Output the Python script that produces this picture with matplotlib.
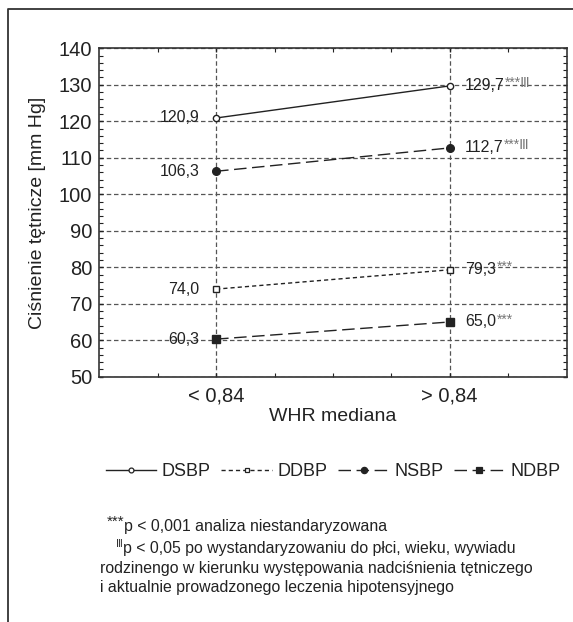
import matplotlib
matplotlib.use('Agg')
import matplotlib.pyplot as plt
from matplotlib.lines import Line2D
from matplotlib.ticker import MultipleLocator, FixedLocator

FONT = ['Liberation Sans', 'DejaVu Sans']
plt.rcParams['font.family'] = FONT

# dane
categories = ['< 0,84', '> 0,84']
series_names = ['DSBP', 'DDBP', 'NSBP', 'NDBP']
dsbp = [120.9, 129.7]
ddbp = [74.0, 79.3]
nsbp = [106.3, 112.7]
ndbp = [60.3, 65.0]
significance = ['***Ⅲ', '***', '***Ⅲ', '***']

TXT = '#222222'
W, H = 573, 622

fig = plt.figure(figsize=(W / 100, H / 100), dpi=100)
ax = fig.add_axes([99.3 / W, 1 - 376.7 / H, (566.5 - 99.3) / W, (376.7 - 48.3) / H])

x = [0, 1]
styles = {
    'DSBP': dict(ls='-', marker='o', mfc='white', ms=4.5),
    'DDBP': dict(ls=(0, (3, 2.2)), marker='s', mfc='white', ms=4.5),
    'NSBP': dict(ls=(0, (9, 4)), marker='o', mfc=TXT, ms=5.5),
    'NDBP': dict(ls=(0, (9, 4)), marker='s', mfc=TXT, ms=5.5),
}
values = [dsbp, ddbp, nsbp, ndbp]

ax.grid(True, which='major', color='#555555', lw=0.9, ls=(0, (3.6, 2.2)), zorder=0)
ax.set_axisbelow(True)

handles = []
for name, vals, sig in zip(series_names, values, significance):
    st = styles[name]
    ax.plot(x, vals, color=TXT, lw=1.0, ls=st['ls'], marker=st['marker'],
            mfc=st['mfc'], mec=TXT, mew=1.0, ms=st['ms'], zorder=3)
    handles.append(Line2D([], [], color=TXT, lw=1.0, ls=st['ls'], marker=st['marker'],
                          mfc=st['mfc'], mec=TXT, mew=0.9, ms=st['ms'] - 1))
    ax.annotate(f'{vals[0]:.1f}'.replace('.', ','), xy=(x[0], vals[0]),
                xytext=(-12, 0), textcoords='offset points',
                ha='right', va='center', fontsize=11.5, color=TXT)
    right = ax.annotate(f'{vals[1]:.1f}'.replace('.', ','), xy=(x[1], vals[1]),
                        xytext=(11, 0), textcoords='offset points',
                        ha='left', va='center', fontsize=11.5, color=TXT)
    ax.annotate(sig, xy=(1, 1), xycoords=right, xytext=(0.3, 1.5), textcoords='offset points',
                ha='left', va='top', fontsize=10, color='#777777')

ax.set_xlim(-0.5, 1.5)
ax.set_ylim(50, 140)
ax.xaxis.set_major_locator(FixedLocator(x))
ax.set_xticklabels(categories)
ax.xaxis.set_minor_locator(FixedLocator([-0.25, 0.25, 0.5, 0.75, 1.25]))
ax.yaxis.set_major_locator(MultipleLocator(10))
ax.yaxis.set_minor_locator(MultipleLocator(2))
ax.tick_params(which='both', direction='in', top=True, right=True, color=TXT)
ax.tick_params(which='major', length=3, width=1)
ax.tick_params(which='minor', length=3, width=0.8)
ax.tick_params(axis='y', labelsize=14.5, pad=5, labelcolor=TXT)
ax.tick_params(axis='x', labelsize=14.5, pad=7, labelcolor=TXT)
for sp in ax.spines.values():
    sp.set_color('#333333')
    sp.set_linewidth(1.2)

ax.set_ylabel('Ciśnienie tętnicze [mm Hg]', fontsize=14, color=TXT, labelpad=9)
ax.set_xlabel('WHR mediana', fontsize=14, color=TXT, labelpad=2)

fig.legend(handles, series_names, loc='center', bbox_to_anchor=(333 / W, 1 - 472 / H),
           ncol=4, frameon=False, fontsize=13, handlelength=2.8, handletextpad=0.3,
           columnspacing=0.6, labelcolor=TXT)

# przypisy
fx = lambda px: px / W
fy = lambda py: 1 - py / H
fig.text(fx(124), fy(526), '***', ha='right', va='baseline', fontsize=11, color=TXT)
fig.text(fx(124), fy(531), 'p < 0,001 analiza niestandaryzowana', ha='left',
         va='baseline', fontsize=11.4, color=TXT)
fig.text(fx(123), fy(547), 'Ⅲ', ha='right', va='baseline', fontsize=7, color=TXT)
fig.text(fx(123), fy(553), 'p < 0,05 po wystandaryzowaniu do płci, wieku, wywiadu',
         ha='left', va='baseline', fontsize=11.4, color=TXT)
fig.text(fx(100), fy(573), 'rodzinengo w kierunku występowania nadciśnienia tętniczego',
         ha='left', va='baseline', fontsize=11.4, color=TXT)
fig.text(fx(100), fy(592), 'i aktualnie prowadzonego leczenia hipotensyjnego',
         ha='left', va='baseline', fontsize=11.4, color=TXT)

# ramka
fig.add_artist(Line2D([fx(7.7), fx(7.7), 1], [0, fy(9.3), fy(9.3)],
                      color='#333333', lw=1.3, transform=fig.transFigure))

fig.savefig('out.png', dpi=100)
